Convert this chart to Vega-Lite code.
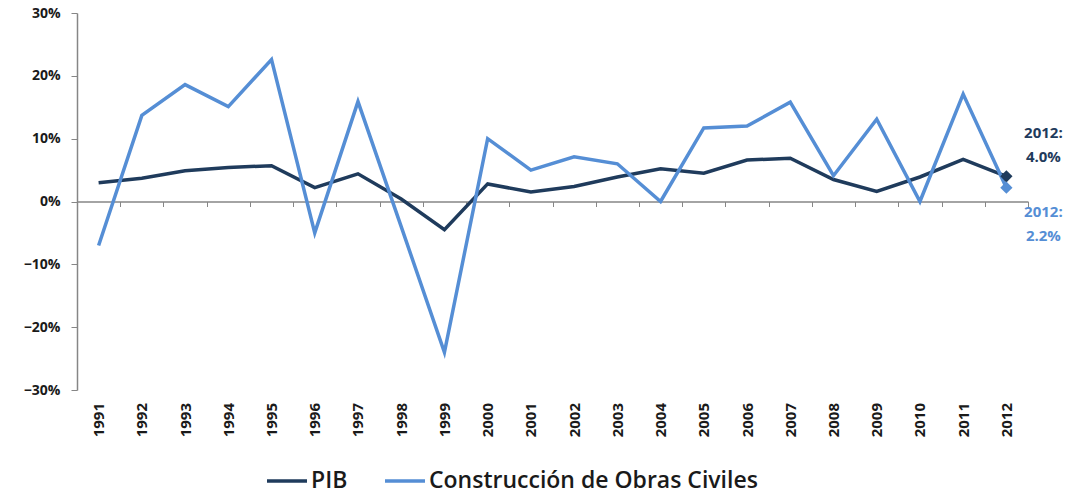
{
  "$schema": "https://vega.github.io/schema/vega-lite/v6.json",
  "width": 951,
  "height": 377,
  "autosize": "none",
  "padding": {"left": 77, "top": 13, "right": 49, "bottom": 105},
  "background": "white",
  "config": {"view": {"stroke": null}, "font": "Open Sans"},
  "datasets": {
    "series": [
      {"year": "1991", "serie": "PIB", "value": 0.030},
      {"year": "1992", "serie": "PIB", "value": 0.037},
      {"year": "1993", "serie": "PIB", "value": 0.049},
      {"year": "1994", "serie": "PIB", "value": 0.054},
      {"year": "1995", "serie": "PIB", "value": 0.057},
      {"year": "1996", "serie": "PIB", "value": 0.022},
      {"year": "1997", "serie": "PIB", "value": 0.044},
      {"year": "1998", "serie": "PIB", "value": 0.004},
      {"year": "1999", "serie": "PIB", "value": -0.045},
      {"year": "2000", "serie": "PIB", "value": 0.028},
      {"year": "2001", "serie": "PIB", "value": 0.015},
      {"year": "2002", "serie": "PIB", "value": 0.024},
      {"year": "2003", "serie": "PIB", "value": 0.039},
      {"year": "2004", "serie": "PIB", "value": 0.052},
      {"year": "2005", "serie": "PIB", "value": 0.045},
      {"year": "2006", "serie": "PIB", "value": 0.066},
      {"year": "2007", "serie": "PIB", "value": 0.069},
      {"year": "2008", "serie": "PIB", "value": 0.035},
      {"year": "2009", "serie": "PIB", "value": 0.016},
      {"year": "2010", "serie": "PIB", "value": 0.039},
      {"year": "2011", "serie": "PIB", "value": 0.067},
      {"year": "2012", "serie": "PIB", "value": 0.040},
      {"year": "1991", "serie": "Construcción de Obras Civiles", "value": -0.070},
      {"year": "1992", "serie": "Construcción de Obras Civiles", "value": 0.137},
      {"year": "1993", "serie": "Construcción de Obras Civiles", "value": 0.186},
      {"year": "1994", "serie": "Construcción de Obras Civiles", "value": 0.151},
      {"year": "1995", "serie": "Construcción de Obras Civiles", "value": 0.226},
      {"year": "1996", "serie": "Construcción de Obras Civiles", "value": -0.050},
      {"year": "1997", "serie": "Construcción de Obras Civiles", "value": 0.159},
      {"year": "1998", "serie": "Construcción de Obras Civiles", "value": -0.040},
      {"year": "1999", "serie": "Construcción de Obras Civiles", "value": -0.240},
      {"year": "2000", "serie": "Construcción de Obras Civiles", "value": 0.100},
      {"year": "2001", "serie": "Construcción de Obras Civiles", "value": 0.050},
      {"year": "2002", "serie": "Construcción de Obras Civiles", "value": 0.071},
      {"year": "2003", "serie": "Construcción de Obras Civiles", "value": 0.060},
      {"year": "2004", "serie": "Construcción de Obras Civiles", "value": 0.000},
      {"year": "2005", "serie": "Construcción de Obras Civiles", "value": 0.117},
      {"year": "2006", "serie": "Construcción de Obras Civiles", "value": 0.120},
      {"year": "2007", "serie": "Construcción de Obras Civiles", "value": 0.158},
      {"year": "2008", "serie": "Construcción de Obras Civiles", "value": 0.041},
      {"year": "2009", "serie": "Construcción de Obras Civiles", "value": 0.131},
      {"year": "2010", "serie": "Construcción de Obras Civiles", "value": 0.000},
      {"year": "2011", "serie": "Construcción de Obras Civiles", "value": 0.171},
      {"year": "2012", "serie": "Construcción de Obras Civiles", "value": 0.022}
    ],
    "notas": [
      {"year": "2012", "serie": "PIB", "value": 0.040, "label": "2012:\n4.0%"},
      {"year": "2012", "serie": "Construcción de Obras Civiles", "value": 0.022, "label": "2012:\n2.2%"}
    ]
  },
  "encoding": {
    "x": {
      "field": "year",
      "type": "ordinal",
      "bandPosition": 0.5,
      "scale": {"type": "band", "paddingInner": 0, "paddingOuter": 0},
      "axis": {
        "title": null,
        "labelAngle": -90,
        "labelFont": "Open Sans",
        "labelFontWeight": "bold",
        "labelFontSize": 15,
        "labelColor": "#1a1a1a",
        "offset": -188.5,
        "tickBand": "extent",
        "tickSize": 5,
        "tickColor": "#868686",
        "domainColor": "#868686",
        "domainWidth": 1.5,
        "labelPadding": 196,
        "grid": false
      }
    },
    "y": {
      "field": "value",
      "type": "quantitative",
      "scale": {"domain": [-0.3, 0.3], "nice": false, "zero": false},
      "axis": {
        "title": null,
        "format": ".0%",
        "values": [-0.3, -0.2, -0.1, 0, 0.1, 0.2, 0.3],
        "labelFont": "Open Sans",
        "labelFontWeight": "bold",
        "labelFontSize": 14,
        "labelColor": "#1a1a1a",
        "labelPadding": 11,
        "tickSize": 6,
        "tickColor": "#868686",
        "domainColor": "#868686",
        "domainWidth": 1.5,
        "grid": false
      }
    }
  },
  "layer": [
    {
      "data": {"name": "series"},
      "mark": {"type": "line", "strokeWidth": 3.5},
      "encoding": {
        "color": {
          "field": "serie",
          "type": "nominal",
          "scale": {
            "domain": ["PIB", "Construcción de Obras Civiles"],
            "range": ["#1F3B5C", "#558ED5"]
          },
          "legend": {
            "title": null,
            "orient": "none",
            "legendX": 188,
            "legendY": 446,
            "direction": "horizontal",
            "symbolType": "stroke",
            "symbolSize": 1600,
            "symbolStrokeWidth": 3.5,
            "labelFont": "Open Sans",
            "labelFontSize": 23,
            "labelFontWeight": 600,
            "labelColor": "#1a1a1a",
            "labelLimit": 0,
            "labelOffset": 2,
            "columnPadding": 30
          }
        }
      }
    },
    {
      "data": {"name": "notas"},
      "transform": [{"filter": "datum.serie == 'PIB'"}],
      "layer": [
        {
          "mark": {"type": "point", "shape": "diamond", "filled": true, "size": 150, "opacity": 1, "color": "#1F3B5C"},
          "encoding": {}
        },
        {
          "mark": {"type": "text", "lineBreak": "\n", "dx": 37, "dy": -50, "align": "center", "baseline": "top", "font": "Open Sans", "fontWeight": "bold", "fontSize": 15, "lineHeight": 24, "color": "#1F3B5C"},
          "encoding": {"text": {"field": "label"}}
        }
      ]
    },
    {
      "data": {"name": "notas"},
      "transform": [{"filter": "datum.serie != 'PIB'"}],
      "layer": [
        {
          "mark": {"type": "point", "shape": "diamond", "filled": true, "size": 150, "opacity": 1, "color": "#558ED5"},
          "encoding": {}
        },
        {
          "mark": {"type": "text", "lineBreak": "\n", "dx": 37, "dy": 17, "align": "center", "baseline": "top", "font": "Open Sans", "fontWeight": "bold", "fontSize": 15, "lineHeight": 24, "color": "#558ED5"},
          "encoding": {"text": {"field": "label"}}
        }
      ]
    }
  ]
}
